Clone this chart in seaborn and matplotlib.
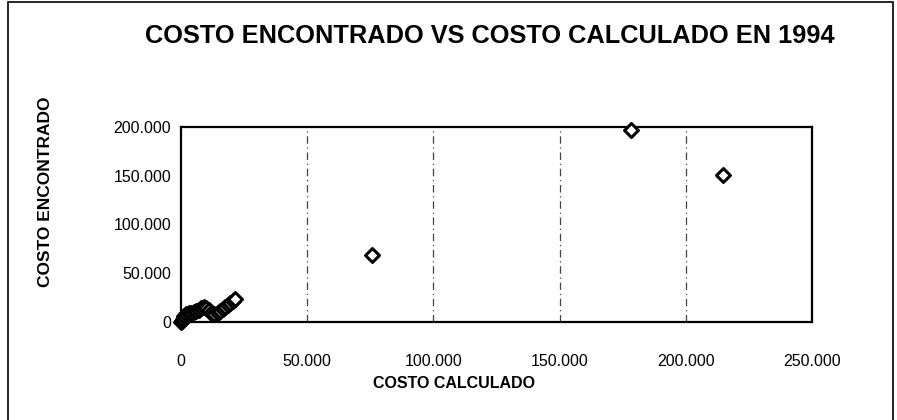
import matplotlib
matplotlib.use("Agg")
import matplotlib.pyplot as plt
import seaborn as sns
import pandas as pd
from matplotlib.patches import Rectangle

# ---- data ----
costo_calculado = [0, 300, 600, 1200, 2000, 3000, 4000, 5000, 6000, 7000,
                   8000, 9000, 10000, 11000, 12000, 13000, 14500, 15500,
                   16500, 17500, 18500, 19500, 20500, 21500,
                   75700, 178200, 214700]
costo_encontrado = [0, 1500, 3500, 6500, 8000, 9000, 9500, 10500, 11500, 12500,
                    14000, 15500, 14500, 12000, 9000, 8000, 9500, 11000,
                    13000, 15000, 17000, 19500, 22000, 24000,
                    68700, 197000, 150800]
x_ticks = [0, 50000, 100000, 150000, 200000, 250000]
y_ticks = [0, 50000, 100000, 150000, 200000]
x_grid = [50000, 100000, 150000, 200000]

def fmt(v):
    return f"{int(v):,}".replace(",", ".")

df = pd.DataFrame({"calc": costo_calculado, "enc": costo_encontrado})

sns.set_theme(style="white")
plt.rcParams['font.family'] = ['Liberation Sans', 'DejaVu Sans']
plt.rcParams['text.color'] = 'black'

fig = plt.figure(figsize=(8.97, 4.20), dpi=100)
ax = fig.add_axes([181/897, 1-322/420, (812-181)/897, (322-127)/420])

sns.scatterplot(data=df, x="calc", y="enc", ax=ax, marker="D", s=50,
                facecolor="white", edgecolor="black", linewidth=2.2,
                zorder=3, legend=False, clip_on=False)

ax.set_xlim(0, 250000)
ax.set_ylim(0, 200000)
ax.set_xticks(x_ticks)
ax.set_xticklabels([fmt(v) for v in x_ticks])
ax.set_yticks(y_ticks)
ax.set_yticklabels([fmt(v) for v in y_ticks])
ax.tick_params(axis="both", length=0, labelsize=11.5, colors="black")
ax.tick_params(axis="x", pad=23)
ax.tick_params(axis="y", pad=7)

for gx in x_grid:
    ax.axvline(gx, color="#444444", lw=0.9, ls=(0, (6, 3, 1, 3)), zorder=1)

for sp in ax.spines.values():
    sp.set_visible(True)
    sp.set_color("black")
    sp.set_linewidth(1.6)

ax.set_xlabel("")
ax.set_ylabel("")
fig.text(454/897, 1-384/420, "COSTO CALCULADO", ha="center", va="center",
         fontsize=11.5, fontweight="bold", color="black")
fig.text(45/897, 1-192/420, "COSTO ENCONTRADO", ha="center", va="center",
         rotation=90, fontsize=12.5, fontweight="bold", color="black")
fig.text(490/897, 1-36/420, "COSTO ENCONTRADO VS COSTO CALCULADO EN 1994",
         ha="center", va="center", fontsize=18.3, fontweight="bold",
         color="black")

fig.patches.append(Rectangle((8/897, -0.01), (893-8)/897, 1-2/420+0.01,
                             transform=fig.transFigure, fill=False,
                             edgecolor="black", lw=1.2))

fig.savefig("out.png", dpi=100)
